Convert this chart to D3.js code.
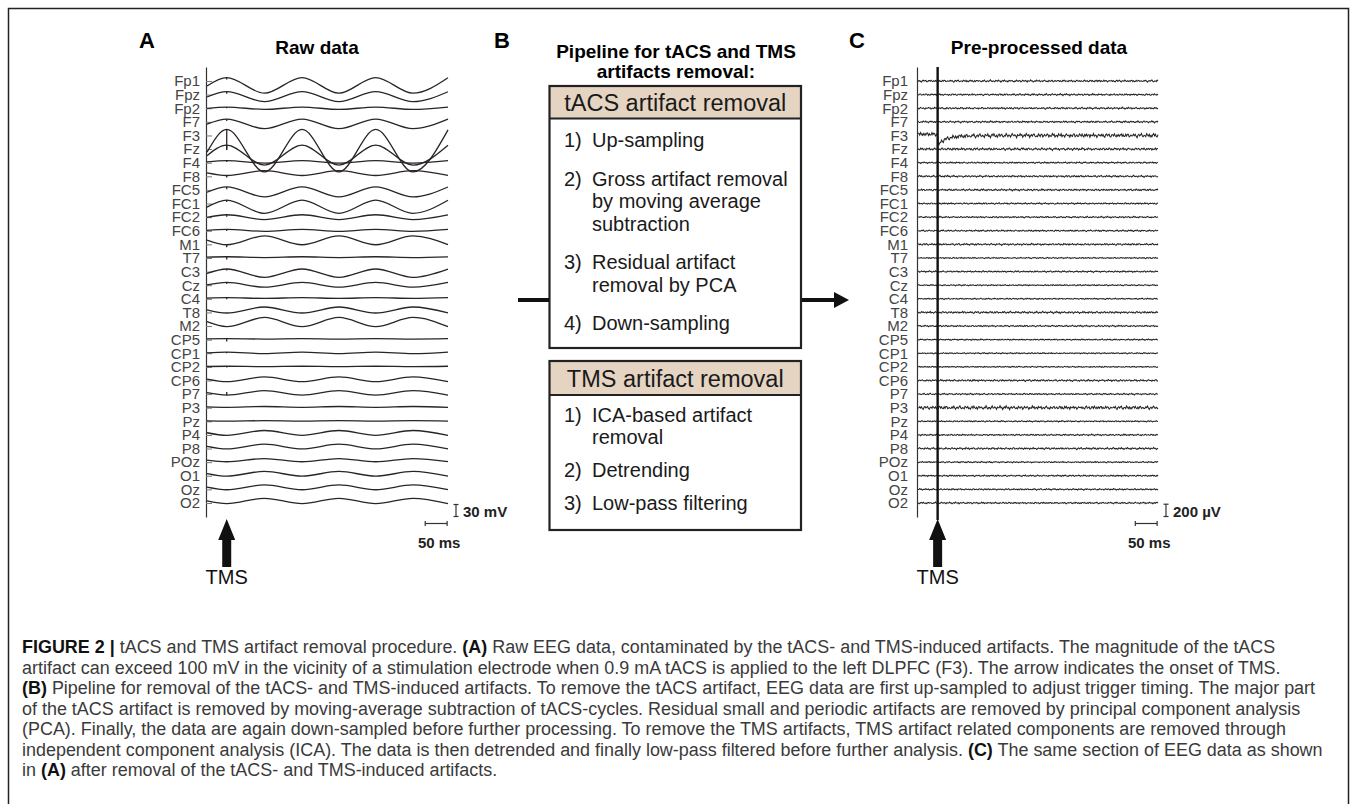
<!DOCTYPE html>
<html>
<head>
<meta charset="utf-8">
<script src="https://cdnjs.cloudflare.com/ajax/libs/d3/7.8.5/d3.min.js"></script>
<style>
  body { margin: 0; background: #fff; }
  svg { display: block; font-family: "Liberation Sans", Arial, Helvetica, sans-serif; }
</style>
</head>
<body>
<div id="wrapper"></div>
<script>
// channel montage, top to bottom
const channels = ["Fp1","Fpz","Fp2","F7","F3","Fz","F4","F8","FC5","FC1","FC2","FC6","M1","T7","C3","Cz","C4","T8","M2","CP5","CP1","CP2","CP6","P7","P3","Pz","P4","P8","POz","O1","Oz","O2"]

// raw data: tACS artifact amplitude (mV, + = peak at TMS onset), DC offset (mV), TMS spike (mV)
const rawAmp    = [19.5,12.5,3,12,53,25,3,-6,12.5,16.5,6,2.5,-11,1,10.5,6,1,-7.5,-11.5,0.5,2,0.5,-6,-5.5,-1,-0.5,-6,-6,-4,-6,-6,-6.5]
const rawOffset = [-11,-5,0,-5,-38,-15,2,8,-5,-8,0,1,10,2,-4,1,2,6,10,2,1,1,3,3,2,1,5,5,5,5,5,5]
const rawSpike  = [-5,-5,-3,-5,-50,-12,-3,-5,-6,-5,-5,-4,-6,-7,-4,-4,-4,0,0,-7,-3,-3,0,8,0,0,0,0,0,0,0,0]

// tACS cycle: extremum times (ms) and normalised level
const tacsExtremaMs = [0, 45, 131, 217, 301, 385, 470, 550]
const tacsShape     = [-0.07, 1, -1, 1, -1, 1, -1, 0.98]
const tmsMs = 45
const traceMs = 550

// pre-processed data: residual EEG amplitude per channel (µV) and two hand-read wiggle templates
const cleanAmp = [20,18,18,18,40,24,15,18,18,15,15,15,18,12,15,12,12,20,15,12,12,11,18,15,34,13,15,19,13,15,15,16]
const noiseA = [0.3,-0.5,0.8,-0.2,-0.9,0.4,0.6,-0.7,0.1,0.9,-0.4,-0.6,0.5,0.2,-0.8,0.7,-0.1,-0.5,0.9,-0.3,0.4,-0.9,0.2,0.6,-0.6,0.8,-0.2,-0.4,0.7,-0.8,0.3,0.5,-0.7,0.1,0.6,-0.3,-0.5]
const noiseB = [0.5,0.2,-0.3,-0.6,-0.4,0.1,0.6,0.7,0.3,-0.2,-0.7,-0.5,0.0,0.4,0.8,0.5,-0.1,-0.5,-0.8,-0.3,0.2,0.6,0.3]
// F3 TMS decay left after cleaning
const f3DecayMs = [0, 44, 47, 52, 60, 75, 95, 130, 200, 550]
const f3DecayUv = [20, 20, -160, -110, -70, -35, -15, -5, 0, 0]

const pipelineTacs = [
  ["1)", ["Up-sampling"]],
  ["2)", ["Gross artifact removal", "by moving average", "subtraction"]],
  ["3)", ["Residual artifact", "removal by PCA"]],
  ["4)", ["Down-sampling"]],
]
const pipelineTms = [
  ["1)", ["ICA-based artifact", "removal"]],
  ["2)", ["Detrending"]],
  ["3)", ["Low-pass filtering"]],
]

const captionLines = [
  [["FIGURE 2 | ", true], ["tACS and TMS artifact removal procedure. ", false], ["(A)", true], [" Raw EEG data, contaminated by the tACS- and TMS-induced artifacts. The magnitude of the tACS", false]],
  [["artifact can exceed 100 mV in the vicinity of a stimulation electrode when 0.9 mA tACS is applied to the left DLPFC (F3). The arrow indicates the onset of TMS.", false]],
  [["(B)", true], [" Pipeline for removal of the tACS- and TMS-induced artifacts. To remove the tACS artifact, EEG data are first up-sampled to adjust trigger timing. The major part", false]],
  [["of the tACS artifact is removed by moving-average subtraction of tACS-cycles. Residual small and periodic artifacts are removed by principal component analysis", false]],
  [["(PCA). Finally, the data are again down-sampled before further processing. To remove the TMS artifacts, TMS artifact related components are removed through", false]],
  [["independent component analysis (ICA). The data is then detrended and finally low-pass filtered before further analysis. ", false], ["(C)", true], [" The same section of EEG data as shown", false]],
  [["in ", false], ["(A)", true], [" after removal of the tACS- and TMS-induced artifacts.", false]],
]

function drawChart() {
  const dimensions = { width: 1354, height: 804 }

  const svg = d3.select("#wrapper")
    .append("svg")
      .attr("width", dimensions.width)
      .attr("height", dimensions.height)

  // frame
  svg.append("rect")
      .attr("x", 8.5).attr("y", 8.5)
      .attr("width", 1340).attr("height", 820)
      .attr("fill", "none")
      .attr("stroke", "#222")
      .attr("stroke-width", 1.5)

  const panelLetter = (x, txt) => svg.append("text")
      .attr("x", x).attr("y", 48)
      .attr("text-anchor", "middle")
      .style("font-size", "22px").style("font-weight", "bold")
      .text(txt)
  const panelTitle = (x, y, txt) => svg.append("text")
      .attr("x", x).attr("y", y)
      .attr("text-anchor", "middle")
      .style("font-size", "19px").style("font-weight", "bold")
      .text(txt)

  const yChan = d3.scalePoint()
    .domain(channels)
    .range([67, 517])
    .padding(1.03)

  function drawAxis(x, ticks, pad) {
    const g = svg.append("g")
        .attr("transform", `translate(${x},0)`)
        .call(d3.axisLeft(yChan).tickSizeInner(ticks).tickSizeOuter(0).tickPadding(pad))
    g.attr("font-size", null).attr("font-family", null)
    g.select(".domain").attr("stroke", "#333").attr("stroke-width", 1.2)
    g.selectAll(".tick line").attr("stroke", "#777")
    g.selectAll(".tick text").style("font-size", "15px").attr("fill", "#444")
    return g
  }

  function tmsArrow(cx) {
    const pts = [[0,519],[8.5,540],[4.5,540],[4.5,567],[-4.5,567],[-4.5,540],[-8.5,540]]
    svg.append("polygon")
        .attr("points", pts.map(p => [cx + p[0], p[1]].join(",")).join(" "))
        .attr("fill", "#111")
    svg.append("text")
        .attr("x", cx).attr("y", 584)
        .attr("text-anchor", "middle")
        .style("font-size", "20px")
        .attr("fill", "#111")
        .text("TMS")
  }

  function scaleBars(xScale, ampScale, ampValue, ampLabel) {
    const bx = xScale(traceMs) + 8
    const y0 = 516.5
    const y1 = y0 - ampScale(ampValue)
    const g = svg.append("g").attr("stroke", "#333").attr("stroke-width", 1.2)
    g.append("line").attr("x1", bx).attr("x2", bx).attr("y1", y0).attr("y2", y1)
    g.append("line").attr("x1", bx - 2.5).attr("x2", bx + 2.5).attr("y1", y0).attr("y2", y0)
    g.append("line").attr("x1", bx - 2.5).attr("x2", bx + 2.5).attr("y1", y1).attr("y2", y1)
    svg.append("text")
        .attr("x", bx + 7).attr("y", y0)
        .style("font-size", "15px").style("font-weight", "bold")
        .attr("fill", "#222")
        .text(ampLabel)
    const t1 = xScale(traceMs - 52), t2 = xScale(traceMs - 2)
    const hy = 523.5
    g.append("line").attr("x1", t1).attr("x2", t2).attr("y1", hy).attr("y2", hy)
    g.append("line").attr("x1", t1).attr("x2", t1).attr("y1", hy - 2.5).attr("y2", hy + 2.5)
    g.append("line").attr("x1", t2).attr("x2", t2).attr("y1", hy - 2.5).attr("y2", hy + 2.5)
    svg.append("text")
        .attr("x", (t1 + t2) / 2 + 3).attr("y", 548)
        .attr("text-anchor", "middle")
        .style("font-size", "15px").style("font-weight", "bold")
        .attr("fill", "#222")
        .text("50 ms")
  }

  // ---------- A: raw data ----------
  panelLetter(147, "A")
  panelTitle(317, 54, "Raw data")

  const xA = d3.scaleLinear().domain([0, traceMs]).range([207, 448])
  const mvScale = d3.scaleLinear().domain([0, 30]).range([0, 12])

  drawAxis(206, -6, 6)

  const rawLine = ch => d3.line()
      .x(d => xA(d[0]))
      .y(d => yChan(ch) - mvScale(d[1]))
      .curve(d3.curveMonotoneX)

  const rawG = svg.append("g")
  channels.forEach((ch, i) => {
    const pts = tacsExtremaMs.map((t, k) => [t, rawOffset[i] + rawAmp[i] * tacsShape[k]])
    rawG.append("path")
        .attr("d", rawLine(ch)(pts))
        .attr("fill", "none")
        .attr("stroke", "#2a2424")
        .attr("stroke-width", 1.3)
    const atTms = rawOffset[i] + rawAmp[i]
    if (rawSpike[i] !== 0) {
      rawG.append("line")
          .attr("x1", xA(tmsMs)).attr("x2", xA(tmsMs))
          .attr("y1", yChan(ch) - mvScale(atTms))
          .attr("y2", yChan(ch) - mvScale(atTms + rawSpike[i]))
          .attr("stroke", "#2a2424")
          .attr("stroke-width", 1.3)
    }
  })

  scaleBars(xA, mvScale, 30, "30 mV")
  tmsArrow(xA(tmsMs))

  // ---------- B: pipeline ----------
  panelLetter(502, "B")
  panelTitle(676, 58, "Pipeline for tACS and TMS")
  panelTitle(676, 78, "artifacts removal:")

  function drawBox(top, bottom, headerBottom, title, steps, firstY, lineH, gap) {
    const left = 549.5, right = 801
    const g = svg.append("g")
    g.append("rect")
        .attr("x", left).attr("y", top)
        .attr("width", right - left).attr("height", headerBottom - top)
        .attr("fill", "#e5d4c2")
    g.append("line")
        .attr("x1", left).attr("x2", right)
        .attr("y1", headerBottom).attr("y2", headerBottom)
        .attr("stroke", "#222").attr("stroke-width", 2)
    g.append("rect")
        .attr("x", left).attr("y", top)
        .attr("width", right - left).attr("height", bottom - top)
        .attr("fill", "none")
        .attr("stroke", "#222").attr("stroke-width", 2.2)
    g.append("text")
        .attr("x", (left + right) / 2).attr("y", (top + headerBottom) / 2 + 8.5)
        .attr("text-anchor", "middle")
        .style("font-size", "23.5px")
        .attr("fill", "#1a1a1a")
        .text(title)
    let y = firstY
    steps.forEach(([num, lines]) => {
      g.append("text")
          .attr("x", 564).attr("y", y + 7)
          .style("font-size", "20px").attr("fill", "#1a1a1a")
          .text(num)
      lines.forEach((ln, j) => {
        g.append("text")
            .attr("x", 592).attr("y", y + 7 + j * lineH)
            .style("font-size", "20px").attr("fill", "#1a1a1a")
            .text(ln)
      })
      y += lines.length * lineH + gap
    })
  }
  drawBox(86, 348, 118.5, "tACS artifact removal", pipelineTacs, 140, 22.5, 16)
  drawBox(361, 530, 395, "TMS artifact removal", pipelineTms, 415, 21.7, 11.5)

  // connectors
  svg.append("line")
      .attr("x1", 518).attr("x2", 549)
      .attr("y1", 300).attr("y2", 300)
      .attr("stroke", "#111").attr("stroke-width", 4)
  svg.append("polygon")
      .attr("points", "802,298 834,298 834,292 849,300 834,308 834,302 802,302")
      .attr("fill", "#111")

  // ---------- C: pre-processed data ----------
  panelLetter(857, "C")
  panelTitle(1039, 54, "Pre-processed data")

  const xC = d3.scaleLinear().domain([0, traceMs]).range([918, 1158])
  const uvScale = d3.scaleLinear().domain([0, 200]).range([0, 12.3])
  const f3Decay = d3.scaleLinear().domain(f3DecayMs).range(f3DecayUv)
  const sampleMs = d3.range(0, traceMs + 1, 2)

  drawAxis(917, 0, 9)

  const cleanG = svg.append("g")
  channels.forEach((ch, i) => {
    const pts = sampleMs.map((t, k) => {
      let v = cleanAmp[i] * (0.65 * noiseA[(k + 3 * i) % noiseA.length] + 0.45 * noiseB[(k + 5 * i) % noiseB.length])
      if (ch === "F3") v += f3Decay(t)
      return [t, v]
    })
    cleanG.append("path")
        .attr("d", d3.line()
          .x(d => xC(d[0]))
          .y(d => yChan(ch) - uvScale(d[1]))(pts))
        .attr("fill", "none")
        .attr("stroke", "#2a2424")
        .attr("stroke-width", 1.05)
  })

  svg.append("line")
      .attr("x1", xC(tmsMs)).attr("x2", xC(tmsMs))
      .attr("y1", 67).attr("y2", 520)
      .attr("stroke", "#111").attr("stroke-width", 2.4)

  scaleBars(xC, uvScale, 200, "200 µV")
  tmsArrow(xC(tmsMs))

  // ---------- caption ----------
  const cap = svg.append("g")
  const capText = captionLines.map((parts, i) => {
    const t = cap.append("text")
        .attr("x", 22).attr("y", 653 + i * 20.5)
        .attr("xml:space", "preserve")
        .style("font-size", "16px")
        .attr("fill", "#3a3a3a")
    parts.forEach(([s, bold]) => {
      t.append("tspan")
          .style("font-weight", bold ? "bold" : "normal")
          .attr("fill", bold ? "#111" : "#3a3a3a")
          .text(s)
    })
    return t
  })
  // fit caption size to the widest printed line
  const w = capText[5].node().getComputedTextLength()
  const fs = 16 * 1301 / w
  capText.forEach(t => t.style("font-size", fs + "px"))
}
drawChart()
</script>
</body>
</html>
